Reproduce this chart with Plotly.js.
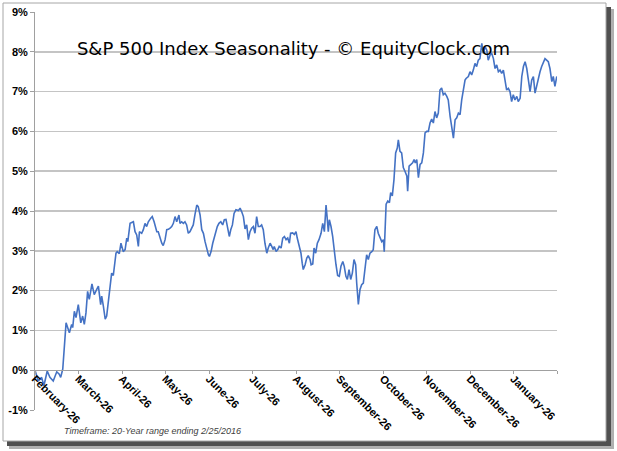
<!DOCTYPE html>
<html>
<head>
<meta charset="utf-8">
<script src="https://cdn.plot.ly/plotly-3.0.1.min.js"></script>
<style>
html,body{margin:0;padding:0;background:#fff;}
#chart{width:617px;height:451px;}
</style>
</head>
<body>
<div id="chart"></div>
<script>
// Trading-session index (0 = February 26, 252 sessions per seasonal year)
const sessions = [
0,1.6,3.2,4.3,5.9,7.2,8.8,10.5,11.7,12.4,13.4,15.0,16.6,17.7,18.2,19.0,19.8,20.9,22.1,23.0,
23.8,24.6,25.4,26.2,27.5,28.6,29.8,30.6,31.7,32.2,33.0,33.9,34.6,35.9,37.0,37.8,39.1,39.7,40.7,41.5,
42.6,43.5,44.3,44.8,45.9,
47.5,48.3,49.1,49.9,50.4,51.5,52.3,53.1,53.9,54.7,55.9,56.6,57.5,57.9,58.8,59.5,60.4,61.2,61.9,62.8,
63.6,64.4,65.2,66.0,66.8,67.6,68.4,69.5,70.0,70.8,71.6,72.4,73.2,74.0,74.8,75.7,76.4,77.2,78.1,78.8,
79.7,80.5,81.3,82.1,82.9,83.7,84.2,85.0,85.8,86.6,87.4,88.0,88.8,89.7,90.6,91.4,92.2,92.8,93.8,94.5,
95.3,96.1,97.0,98.2,99.0,99.8,100.6,101.4,102.2,103.0,
103.8,104.6,105.4,106.2,107.0,107.8,108.6,109.4,110.2,111.0,
111.9,112.6,113.5,114.3,115.0,115.5,116.4,117.2,117.9,118.8,
119.6,120.4,121.2,122.0,122.8,123.4,124.4,125.2,126.0,126.6,
127.6,128.4,129.0,129.5,130.4,131.2,131.9,132.8,133.3,134.1,
134.7,135.5,136.3,137.1,138.1,138.9,139.7,140.5,141.0,141.6,
142.1,142.9,143.7,144.5,145.3,146.1,146.9,147.7,148.6,149.3,
150.1,150.8,151.6,152.4,153.2,154.0,154.8,155.3,156.1,156.9,
157.7,158.5,159.3,160.1,160.9,161.7,162.6,163.3,164.1,165.0,
165.7,166.6,167.4,168.2,168.6,169.5,170.3,171.1,171.7,172.5,
173.3,174.1,174.9,175.4,176.2,177.0,177.8,178.6,179.5,179.9,
180.6,181.5,182.3,183.0,183.6,184.3,185.1,185.9,186.7,187.5,
188.3,189.1,189.9,190.7,191.5,192.3,193.1,193.9,194.7,195.5,
196.3,197.1,197.9,198.8,199.5,200.4,201.2,202.0,202.8,203.6,
204.4,205.2,206.0,206.8,207.6,208.1,209.2,210.0,210.8,211.6,
212.4,213.2,214.0,214.8,215.7,216.4,217.3,218.1,218.8,219.7,
220.5,221.3,222.1,222.9,223.7,224.5,225.3,226.1,226.9,227.7,
228.5,229.3,230.1,230.9,231.7,232.6,233.3,234.2,235.0,235.8,
236.6,237.4,238.2,239.0,239.8,240.6,241.4,242.2,243.0,243.8,
244.6,245.4,246.2,247.0,247.8,248.6,249.5,250.2,251.0,251.9
];

// Average cumulative return (%)
const seasonalReturn = [
0,-0.27,-0.18,-0.39,-0.02,-0.18,-0.27,-0.04,-0.1,-0.18,0.03,1.19,0.94,1.15,1.07,1.48,1.32,1.65,1.19,1.36,
1.15,1.44,1.98,1.78,2.17,1.9,2.03,2.11,1.65,1.86,1.61,1.28,1.36,2.03,2.44,2.38,2.94,2.98,2.93,3.19,
2.98,3.03,3.32,3.23,3.69,
3.73,3.48,3.4,3.11,3.48,3.44,3.53,3.69,3.61,3.73,3.82,3.86,3.73,3.65,3.48,3.48,3.32,3.19,3.13,3.28,
3.53,3.54,3.57,3.61,3.69,3.86,3.73,3.9,3.69,3.73,3.69,3.73,3.65,3.44,3.48,3.57,3.65,3.9,4.15,4.11,
3.9,3.53,3.44,3.23,3.03,2.9,2.86,2.98,3.19,3.36,3.48,3.61,3.69,3.73,3.65,3.78,3.79,3.61,3.36,3.53,
3.65,3.94,4.03,4.01,4.07,3.98,3.86,3.55,3.65,3.28,
3.48,3.57,3.61,3.44,3.86,3.61,3.61,3.65,3.53,3.19,
2.94,3.07,3.19,3.11,3.03,3.11,2.98,3.03,3.11,3.07,
3.32,3.36,3.28,3.32,3.19,3.44,3.45,3.41,3.48,3.32,
3.07,2.94,2.69,2.53,2.65,2.82,2.88,2.78,2.65,2.67,
3.07,2.94,3.19,3.28,3.44,3.69,3.48,4.15,3.86,3.48,
3.78,3.61,3.36,2.94,2.65,2.38,2.36,2.61,2.73,2.61,
2.36,2.28,2.53,2.28,2.44,2.78,2.65,2.19,1.65,2.03,
2.15,2.19,2.61,2.9,2.78,2.94,2.98,3.03,3.53,3.61,
3.44,3.32,3.23,3.28,2.98,4.17,4.25,4.21,4.46,4.38,
4.79,5.46,5.58,5.79,5.5,5.46,5.09,5.0,4.88,4.5,
5.13,5.17,5.21,5.29,5.21,5.29,4.84,5.17,5.21,5.46,
5.96,6.0,6.0,6.21,6.31,6.21,6.5,6.34,6.46,7.04,
7.09,6.92,6.96,6.88,6.79,6.38,6.13,5.83,6.29,6.34,
6.46,6.42,6.79,7.04,7.29,7.33,7.38,7.5,7.42,7.54,
7.71,7.63,7.79,7.83,8.21,7.96,8.13,8.04,7.79,7.92,
7.96,7.83,7.58,7.67,7.5,7.54,7.46,7.54,7.25,7.04,
7.08,7.0,6.75,6.92,6.79,6.88,6.75,6.83,7.38,7.63,
7.75,7.58,7.29,7.0,7.29,7.38,6.96,7.17,7.33,7.5,
7.63,7.71,7.83,7.79,7.75,7.58,7.25,7.38,7.13,7.38
];

const monthLabels = ["February-26","March-26","April-26","May-26","June-26","July-26",
  "August-26","September-26","October-26","November-26","December-26","January-26",""];
const sessionsPerMonth = 21;
const yTicks = [-1,0,1,2,3,4,5,6,7,8,9];
const gridTicks = [1,2,3,4,5,6,7,8];

// layout geometry helpers (pixels -> paper)
const W = 617, H = 451, L = 35, R = 557, T = 12, B = 410;
const px = x => (x - L) / (R - L);
const py = y => (B - y) / (B - T);

const trace = {
  type: 'scatter', mode: 'lines',
  x: sessions, y: seasonalReturn,
  line: {color: '#4472C4', width: 1.6},
  hoverinfo: 'skip', showlegend: false
};
const dummy = {type:'scatter', mode:'lines', x:[null], y:[null], yaxis:'y2', showlegend:false, hoverinfo:'skip'};

const yTickFont = {family: 'Liberation Sans, Arial, sans-serif', size: 11, color: '#000', weight: 'bold'};
const xTickFont = {family: 'Liberation Sans, Arial, sans-serif', size: 11, color: '#000', weight: 'bold'};

const layout = {
  width: W, height: H,
  margin: {l: L, r: W - R, t: T, b: H - B, pad: 0},
  paper_bgcolor: '#ffffff',
  plot_bgcolor: 'rgba(0,0,0,0)',
  showlegend: false,
  title: {
    text: 'S&P 500 Index Seasonality - © EquityClock.com',
    font: {family: 'DejaVu Sans, Verdana, sans-serif', size: 18, color: '#000'},
    xref: 'paper', x: px(293.5), xanchor: 'center',
    yref: 'container', y: 1 - 48.5 / H, yanchor: 'middle'
  },
  xaxis: {
    range: [0, 252],
    anchor: 'free', position: 0.1,
    tickmode: 'array',
    tickvals: monthLabels.map((_, i) => i * sessionsPerMonth),
    ticktext: monthLabels,
    tickangle: 45,
    ticks: 'outside', ticklen: 3, tickcolor: '#a0a0a0', tickwidth: 1,
    ticklabelstandoff: -6,
    showline: true, linecolor: '#a0a0a0', linewidth: 1,
    showgrid: false, zeroline: false,
    tickfont: xTickFont,
    fixedrange: true
  },
  yaxis: {
    range: [-1, 9],
    tickmode: 'array', tickvals: yTicks,
    ticktext: yTicks.map(v => v + '%'),
    ticks: 'outside', ticklen: 4, tickcolor: '#a0a0a0', tickwidth: 1,
    showline: true, linecolor: '#a0a0a0', linewidth: 1,
    showgrid: false, zeroline: false,
    tickfont: yTickFont,
    fixedrange: true
  },
  yaxis2: {
    overlaying: 'y', side: 'left',
    range: [-1, 9],
    tickmode: 'array', tickvals: gridTicks,
    showticklabels: false, ticks: '',
    showgrid: true, gridcolor: '#c4c4c4', gridwidth: 1.5,
    showline: false, zeroline: false,
    fixedrange: true
  },
  shapes: [
    {type:'rect', xref:'paper', yref:'paper', layer:'below',
     x0: px(9), x1: px(614), y0: py(449), y1: py(9),
     fillcolor:'#b0b0b0', line:{width:0}},
    {type:'rect', xref:'paper', yref:'paper', layer:'below',
     x0: px(7), x1: px(611), y0: py(446), y1: py(7),
     fillcolor:'#505050', line:{width:0}},
    {type:'rect', xref:'paper', yref:'paper', layer:'below',
     x0: px(3), x1: px(606), y0: py(441), y1: py(3),
     fillcolor:'#ffffff', line:{color:'#a6a6a6', width:1}}
  ],
  annotations: [
    {text: 'Timeframe: 20-Year range ending 2/25/2016',
     xref:'paper', yref:'paper', x: px(152), y: py(431),
     xanchor:'center', yanchor:'middle', showarrow:false,
     font:{family:'Liberation Sans, Arial, sans-serif', size: 9, color:'#404040', style:'italic'}}
  ]
};

Plotly.newPlot('chart', [trace, dummy], layout, {staticPlot: true, displayModeBar: false});
</script>
</body>
</html>
